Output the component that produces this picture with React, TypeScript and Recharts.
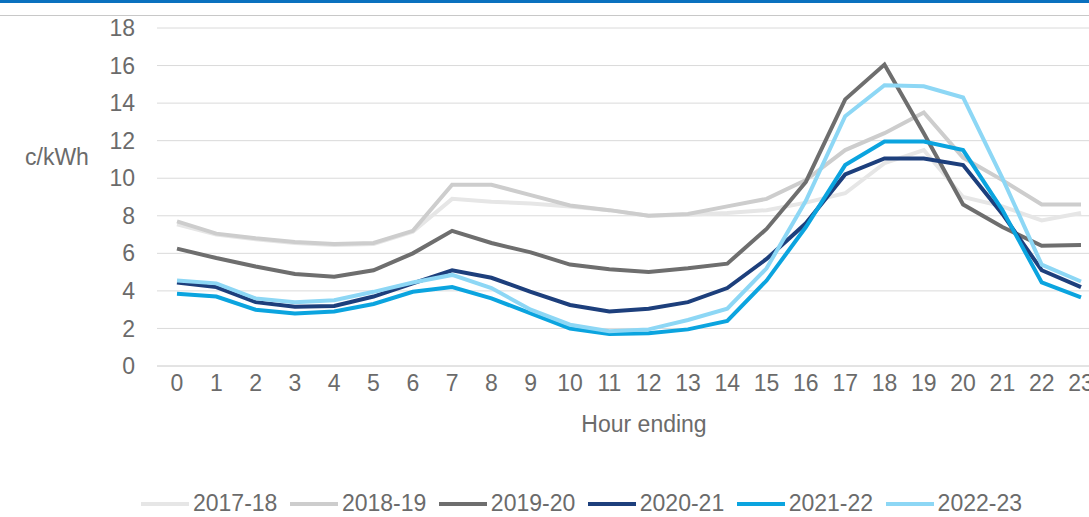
import { LineChart, Line, XAxis, YAxis, CartesianGrid } from 'recharts'

// Average price by hour of day, c/kWh
const hours = ['0', '1', '2', '3', '4', '5', '6', '7', '8', '9', '10', '11', '12', '13', '14', '15', '16', '17', '18', '19', '20', '21', '22', '23']

const fy1718 = [7.55, 7.0, 6.75, 6.55, 6.45, 6.5, 7.15, 8.9, 8.75, 8.65, 8.5, 8.3, 8.0, 8.05, 8.15, 8.3, 8.7, 9.2, 10.8, 11.5, 9.0, 8.5, 7.75, 8.15]
const fy1819 = [7.7, 7.05, 6.8, 6.6, 6.5, 6.55, 7.2, 9.65, 9.65, 9.1, 8.55, 8.3, 8.0, 8.1, 8.5, 8.9, 9.9, 11.5, 12.4, 13.5, 11.1, 9.9, 8.6, 8.6]
const fy1920 = [6.25, 5.75, 5.3, 4.9, 4.75, 5.1, 6.0, 7.2, 6.55, 6.05, 5.4, 5.15, 5.0, 5.2, 5.45, 7.3, 9.8, 14.2, 16.05, 12.4, 8.6, 7.4, 6.4, 6.45]
const fy2021 = [4.45, 4.2, 3.4, 3.15, 3.2, 3.7, 4.4, 5.1, 4.7, 3.95, 3.25, 2.9, 3.05, 3.4, 4.15, 5.7, 7.6, 10.2, 11.05, 11.05, 10.7, 8.1, 5.1, 4.2]
const fy2122 = [3.85, 3.7, 3.0, 2.8, 2.9, 3.3, 3.95, 4.2, 3.6, 2.8, 2.0, 1.7, 1.75, 1.95, 2.4, 4.55, 7.4, 10.7, 11.95, 11.95, 11.5, 8.3, 4.45, 3.65]
const fy2223 = [4.55, 4.4, 3.6, 3.4, 3.5, 3.95, 4.45, 4.85, 4.15, 3.0, 2.2, 1.85, 1.95, 2.45, 3.05, 5.2, 8.8, 13.3, 14.95, 14.9, 14.3, 10.0, 5.4, 4.5]

const yTicks = [0, 2, 4, 6, 8, 10, 12, 14, 16, 18]

const series = [
  { key: 'fy1718', name: '2017-18', values: fy1718, color: '#e6e6e6' },
  { key: 'fy1819', name: '2018-19', values: fy1819, color: '#cdcdcd' },
  { key: 'fy1920', name: '2019-20', values: fy1920, color: '#6e6e6e' },
  { key: 'fy2021', name: '2020-21', values: fy2021, color: '#1d3f7c' },
  { key: 'fy2122', name: '2021-22', values: fy2122, color: '#0ba4df' },
  { key: 'fy2223', name: '2022-23', values: fy2223, color: '#8dd7f5' },
]

const data = hours.map((hour, i) => {
  const row: Record<string, string | number> = { hour }
  series.forEach(s => { row[s.key] = s.values[i] })
  return row
})

const textColor = '#6b6b6b'
const font = '"Liberation Sans", Arial, sans-serif'

export default function App() {
  return (
    <div style={{ position: 'absolute', left: 0, top: 0, width: 1089, height: 517, overflow: 'hidden', background: '#fff', fontFamily: font }}>
      {/* page header rules */}
      <div style={{ position: 'absolute', left: 0, top: 0, width: 1089, height: 3, background: '#0a71bf' }} />
      <div style={{ position: 'absolute', left: 0, top: 15, width: 1089, height: 1, background: '#c8c8c8' }} />

      {/* plot runs past the right edge on purpose: the reference is cropped there */}
      <LineChart width={1101} height={517} data={data} margin={{ top: 28, right: 0, bottom: 0, left: 0 }}>
        <CartesianGrid vertical={false} stroke="#dadada" />
        <XAxis
          dataKey="hour"
          height={151}
          padding={{ left: 20, right: 20 }}
          tickLine={false}
          tickSize={0}
          tickMargin={9}
          axisLine={{ stroke: '#dadada' }}
          interval={0}
          tick={{ fontSize: 23, fill: textColor }}
          label={{ value: 'Hour ending', position: 'insideBottom', offset: 85, dx: 15, fontSize: 23, fill: textColor }}
        />
        <YAxis
          width={157}
          domain={[0, 18]}
          ticks={yTicks}
          tickLine={false}
          axisLine={false}
          tickSize={0}
          tickMargin={22}
          tick={{ fontSize: 23, fill: textColor }}
          label={{ value: 'c/kWh', position: 'insideLeft', offset: 25, dy: -40, fontSize: 23, fill: textColor }}
        />
        {series.map(s => (
          <Line
            key={s.key}
            type="linear"
            dataKey={s.key}
            name={s.name}
            stroke={s.color}
            strokeWidth={4}
            dot={false}
            activeDot={false}
            isAnimationActive={false}
          />
        ))}
      </LineChart>

      {/* legend */}
      <div style={{ position: 'absolute', left: 141, top: 490, display: 'flex', alignItems: 'center', fontSize: 23, color: textColor }}>
        {series.map(s => (
          <div key={s.key} style={{ display: 'flex', alignItems: 'center', marginRight: 12.5 }}>
            <span style={{ display: 'inline-block', width: 48, height: 4, background: s.color, marginRight: 4 }} />
            <span>{s.name}</span>
          </div>
        ))}
      </div>
    </div>
  )
}
